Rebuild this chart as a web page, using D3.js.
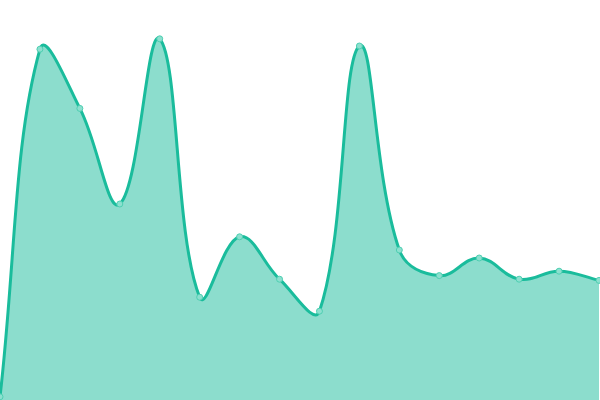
<!DOCTYPE html>
<html>
<head>
<meta charset="utf-8">
<script src="https://cdn.jsdelivr.net/npm/d3@7"></script>
<style>
html,body{margin:0;padding:0;background:#fff;}
svg{display:block;}
</style>
</head>
<body>
<svg id="chart" width="600" height="400"></svg>
<script>
const categories = ["1","2","3","4","5","6","7","8","9","10","11","12","13","14","15","16"];
const values = [0.8, 87.7, 72.9, 49, 90.3, 25.7, 40.8, 30.2, 22.2, 88.5, 37.5, 31.1, 35.5, 30.2, 32.2, 29.9];

const W = 600, H = 400;
const svg = d3.select("#chart");
const x = d3.scalePoint().domain(categories).range([0, 599]);
const y = d3.scaleLinear().domain([0, 100]).range([H, 0]);

// Chart.js-style spline (tension 0.4, control points capped to chart area)
function splineCurve(tension) {
  return function(context) {
    let pts = [], line = NaN;
    return {
      areaStart(){ line = 0; },
      areaEnd(){ line = NaN; },
      lineStart(){ pts = []; },
      lineEnd(){
        const n = pts.length;
        if (n) {
          if (line) context.lineTo(pts[0][0], pts[0][1]); else context.moveTo(pts[0][0], pts[0][1]);
          const cps = pts.map((p, i) => {
            const prev = pts[i - 1] || p, next = pts[i + 1] || p;
            const d01 = Math.hypot(p[0]-prev[0], p[1]-prev[1]);
            const d12 = Math.hypot(next[0]-p[0], next[1]-p[1]);
            let s01 = d01 / (d01 + d12), s12 = d12 / (d01 + d12);
            if (isNaN(s01)) s01 = 0; if (isNaN(s12)) s12 = 0;
            const fa = tension * s01, fb = tension * s12;
            const cap = (v, lo, hi) => Math.max(lo, Math.min(hi, v));
            return {
              px: cap(p[0] - fa * (next[0] - prev[0]), 0, W),
              py: cap(p[1] - fa * (next[1] - prev[1]), 0, H),
              nx: cap(p[0] + fb * (next[0] - prev[0]), 0, W),
              ny: cap(p[1] + fb * (next[1] - prev[1]), 0, H)
            };
          });
          for (let i = 1; i < n; i++) {
            context.bezierCurveTo(cps[i-1].nx, cps[i-1].ny, cps[i].px, cps[i].py, pts[i][0], pts[i][1]);
          }
        }
        if (line || (line !== 0 && n === 1)) context.closePath();
        line = 1 - line;
      },
      point(px, py){ pts.push([+px, +py]); }
    };
  };
}
const curve = splineCurve(0.4);

const data = categories.map((c, i) => ({c, v: values[i]}));

svg.append("path")
  .datum(data)
  .attr("fill", "rgba(26,188,156,0.5)")
  .attr("d", d3.area().x(d => x(d.c)).y0(y(0)).y1(d => y(d.v)).curve(curve));

svg.append("path")
  .datum(data)
  .attr("fill", "none")
  .attr("stroke", "#1abc9c")
  .attr("stroke-width", 3)
  .attr("d", d3.line().x(d => x(d.c)).y(d => y(d.v)).curve(curve));

svg.selectAll("circle.pt")
  .data(data)
  .join("circle")
  .attr("class", "pt")
  .attr("cx", d => x(d.c))
  .attr("cy", d => y(d.v))
  .attr("r", 3)
  .attr("fill", "#8ce0cf")
  .attr("stroke", "#4fcfb2")
  .attr("stroke-width", 1);
</script>
</body>
</html>
